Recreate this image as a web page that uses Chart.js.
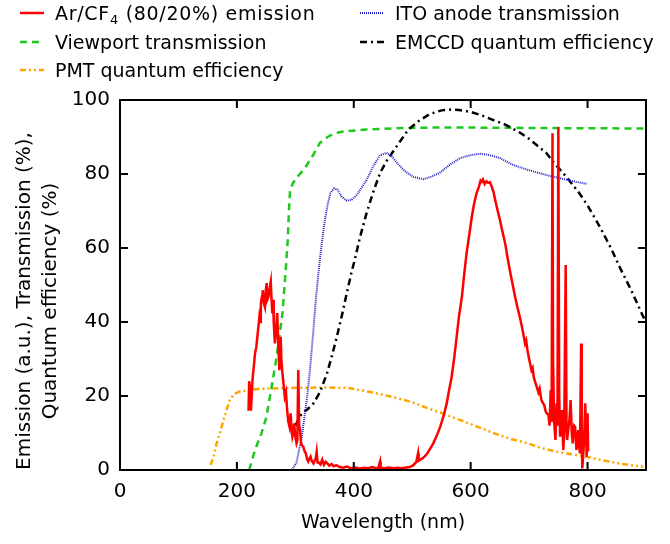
<!DOCTYPE html>
<html>
<head>
<meta charset="utf-8">
<script src="https://cdn.jsdelivr.net/npm/chart.js@4.4.1/dist/chart.umd.min.js"></script>
<style>
  html, body { margin: 0; padding: 0; background: #fff; }
  #wrap { position: relative; width: 670px; height: 544px; }
  #chart { position: absolute; left: 0; top: 0; }
  .legend { position: absolute; font-family: "DejaVu Sans", sans-serif; font-size: 19px; color: #000; }
  .item { position: absolute; display: flex; align-items: center; white-space: nowrap; height: 24px; }
  .item svg { margin-right: 11px; }
  sub { font-size: 13px; vertical-align: -4px; line-height: 0; }
</style>
</head>
<body>
<div id="wrap">
  <canvas id="chart" width="670" height="544"></canvas>
  <div class="legend">
    <div class="item" style="left:20px; top:1px">
      <svg width="24" height="6"><line x1="0" y1="3" x2="24" y2="3" stroke="#ff0000" stroke-width="2.5"/></svg>
      <span style="letter-spacing:0.7px">Ar/CF<sub>4</sub> (80/20%) emission</span>
    </div>
    <div class="item" style="left:20px; top:30px">
      <svg width="24" height="6"><line x1="0" y1="3" x2="24" y2="3" stroke="#1ec81e" stroke-width="2.5" stroke-dasharray="7 5"/></svg>
      <span>Viewport transmission</span>
    </div>
    <div class="item" style="left:20px; top:58px">
      <svg width="24" height="6"><line x1="0" y1="3" x2="24" y2="3" stroke="#ffa500" stroke-width="2.5" stroke-dasharray="6 3 2 3 2 3"/></svg>
      <span>PMT quantum efficiency</span>
    </div>
    <div class="item" style="left:360px; top:1px">
      <svg width="24" height="6"><line x1="0" y1="3" x2="24" y2="3" stroke="#2424c8" stroke-width="2" stroke-dasharray="1 1"/></svg>
      <span>ITO anode transmission</span>
    </div>
    <div class="item" style="left:360px; top:30px">
      <svg width="24" height="6"><line x1="0" y1="3" x2="24" y2="3" stroke="#000" stroke-width="2.5" stroke-dasharray="7 4 2 4"/></svg>
      <span>EMCCD quantum efficiency</span>
    </div>
  </div>
</div>
<script>
// Wavelength in nm, values in % (emission in arbitrary units)
const xTicks = [0, 200, 400, 600, 800];
const yTicks = [0, 20, 40, 60, 80, 100];
const yTitle = ["Emission (a.u.), Transmission (%),", "Quantum efficiency (%)"];

const emissionWl = [220, 221, 223, 224, 225, 227, 229, 231, 233, 235, 237, 238.5, 240, 241, 243, 244, 246, 248, 249, 251,
  252, 254, 256, 258, 259, 260.6, 262, 263, 265, 267, 269, 271, 272.6, 274, 275, 276, 278, 280, 282, 284,
  286, 288, 290, 292, 293.5, 295, 296.5, 298, 300, 302, 303.5, 305, 306.5, 308, 310, 312, 313.6, 316, 318, 320,
  322, 324, 326, 328, 331, 333, 335, 336.5, 338, 340, 343, 346, 349, 352, 354, 358, 362, 366, 370, 376,
  382, 388, 395, 402, 410, 418, 425, 432, 438, 442, 445, 446, 452, 460, 468, 475, 482, 490, 496, 502,
  507, 510, 511, 514, 518, 521, 525, 530, 536, 542, 548, 554, 559, 563, 567.5, 572, 576, 580, 585, 589,
  593, 598, 602, 606, 610, 614, 617, 619, 621, 624, 627, 630, 633, 636, 639, 642, 646, 650, 655, 659,
  663, 667, 672, 676, 680, 684, 688, 691, 693, 695, 697, 700, 702, 704, 706, 708, 711, 713, 716, 718,
  721, 724, 726, 728, 730, 733, 735, 737, 738.5, 740, 741, 742.6, 745, 747, 748.5, 750, 751.5, 753, 756, 758.5,
  760, 762.6, 764, 765, 767, 769, 771, 773, 774.6, 777, 778.6, 781, 783, 784, 786, 787, 789, 790, 791, 793,
  794, 796, 798.5, 800, 801];
const emissionVal = [16, 24, 22, 16, 19, 25, 28, 31.5, 33, 36, 39, 41.4, 40, 45, 47, 48.6, 45, 44, 48, 50.5,
  46, 46.8, 49, 50.9, 47, 42.4, 46, 40, 34.2, 38, 42.4, 33, 27, 31, 36, 30, 26, 23, 19.8, 21,
  16.2, 13, 11.7, 15.3, 11, 9, 10, 12.6, 9, 7.2, 8, 27, 12, 10.8, 7.2, 6.5, 6.3, 5, 4.5, 3,
  2.3, 3, 3.6, 2.5, 1.8, 2.5, 3.2, 4.9, 2, 2, 1.5, 2.8, 1.4, 2.2, 1.9, 1.2, 1.6, 1, 1.3, 0.8,
  0.6, 0.9, 0.5, 0.7, 0.4, 0.6, 0.5, 0.8, 0.5, 0.6, 2.3, 0.6, 0.5, 0.7, 0.5, 0.6, 0.5, 0.7, 0.8, 1.3,
  2.2, 4.5, 2.5, 2.8, 3.2, 3.6, 4.3, 5.6, 7.2, 9.3, 11.7, 14.8, 18, 21.5, 25.2, 30.5, 36, 41.5, 46.8, 53,
  58.6, 64, 68.5, 72, 74.8, 76.5, 78.2, 77.9, 78.5, 77.3, 78, 77.6, 77.8, 76.6, 75.2, 73, 70.2, 67.6, 64, 61.3,
  57.5, 54, 50, 46.8, 44, 41.4, 38.5, 36, 34.2, 35, 32.5, 30, 28.5, 27, 27.6, 25, 23.5, 22.5, 21, 22,
  18.9, 18, 17.5, 16, 15.3, 15, 12, 21.6, 13, 91, 30, 13.5, 8.1, 18, 12, 92.7, 20, 9, 16.2, 5.4,
  10, 55.4, 12, 8.1, 11, 13.5, 18.9, 10, 7.2, 12, 11.7, 5.4, 9, 10.8, 6, 4.5, 34.2, 10, 0.4, 5,
  8.1, 18, 3.6, 15.3, 5];

const viewportWl = [221, 231, 242, 250, 259.5, 268, 278, 283.5, 287, 289, 291, 296, 305, 316, 330, 342, 355, 365, 375, 388,
  420, 480, 550, 650, 750, 900];
const viewportVal = [0, 5.4, 9.9, 14, 22.5, 30.6, 42.3, 54, 62, 70, 75.5, 77.6, 79.5, 81.5, 85, 88.4, 90, 90.8, 91.3, 91.6,
  92, 92.4, 92.6, 92.5, 92.4, 92.3];

const pmtWl = [155, 160, 165, 171, 177, 183, 188, 195, 205, 230, 251, 300, 350, 390, 411, 440, 467, 500, 525, 550,
  582, 610, 639, 670, 696, 720, 748, 775, 799, 830, 860, 895];
const pmtVal = [1.4, 3.5, 7, 10, 13.5, 16.5, 19, 20.5, 21.2, 21.8, 22, 22.2, 22.3, 22.2, 21.6, 20.7, 19.7, 18.3, 16.8, 15.4,
  13.5, 11.8, 10, 8.3, 7.3, 6, 4.9, 4.2, 3.5, 2.5, 1.6, 0.9];

const itoWl = [294, 302, 311, 320, 325, 330, 335, 340, 345, 350, 355, 360, 366, 372, 379, 388, 396, 405, 422, 433,
  445, 456, 465, 473, 487, 502, 519, 533, 547, 565, 582, 600, 616, 633, 650, 673, 700, 730, 760, 780, 800];
const itoVal = [0, 2, 9, 19.5, 27, 36, 46, 54, 61, 67, 71.5, 74.8, 76.1, 75.8, 73.9, 72.8, 73, 74.3, 78.4, 82,
  85.1, 85.7, 84.8, 83.2, 80.8, 79.2, 78.6, 79.3, 80.3, 82.6, 84.3, 85.1, 85.5, 85.1, 84.3, 82.4, 81, 79.7, 78.6, 77.9, 77.3];

const emccdWl = [300, 311, 320, 331, 342, 354, 362, 371, 380, 388, 397, 402, 410, 422, 433, 445, 456, 467, 480, 493,
  510, 530, 550, 565, 580, 600, 616, 640, 660, 684, 700, 730, 741, 765, 785, 800, 820, 840, 856, 875, 895, 900];
const emccdVal = [12, 15.3, 16.3, 18, 21, 26, 30.5, 36, 42, 47.8, 54, 57, 62.5, 69.5, 75, 80.3, 83.5, 86, 89, 91.9,
  94.2, 96.2, 97.2, 97.4, 97.3, 96.8, 96, 94.5, 93.3, 91.2, 89.5, 85.6, 83.3, 79, 75, 71.5, 66, 60, 54.5, 48.5, 41.5, 40];

const pts = (xs, ys) => xs.map((x, i) => ({ x: x, y: ys[i] }));

const FONT = "'DejaVu Sans', sans-serif";

// frame around the plot area with inward ticks on all four sides
const framePlugin = {
  id: "frame",
  afterDraw(chart) {
    const { ctx, chartArea: a, scales } = chart;
    const len = 8;
    ctx.save();
    ctx.strokeStyle = "#000";
    ctx.lineWidth = 2;
    ctx.strokeRect(a.left, a.top, a.right - a.left, a.bottom - a.top);
    ctx.beginPath();
    xTicks.forEach(v => {
      const px = scales.x.getPixelForValue(v);
      if (px <= a.left + 1 || px >= a.right - 1) return;
      ctx.moveTo(px, a.bottom); ctx.lineTo(px, a.bottom - len);
      ctx.moveTo(px, a.top); ctx.lineTo(px, a.top + len);
    });
    yTicks.forEach(v => {
      const py = scales.y.getPixelForValue(v);
      if (py <= a.top + 1 || py >= a.bottom - 1) return;
      ctx.moveTo(a.left, py); ctx.lineTo(a.left + len, py);
      ctx.moveTo(a.right, py); ctx.lineTo(a.right - len, py);
    });
    ctx.stroke();
    ctx.restore();
  }
};

// two-line rotated y title, sitting a little below the middle of the axis
const yTitlePlugin = {
  id: "yTitle",
  afterDraw(chart) {
    const { ctx, chartArea: a } = chart;
    const cy = (a.top + a.bottom) / 2 + 16;
    ctx.save();
    ctx.fillStyle = "#000";
    ctx.font = "20px " + FONT;
    ctx.textAlign = "center";
    ctx.textBaseline = "middle";
    [25, 51].forEach((x, i) => {
      ctx.save();
      ctx.translate(x, cy);
      ctx.rotate(-Math.PI / 2);
      ctx.fillText(yTitle[i], 0, 0);
      ctx.restore();
    });
    ctx.restore();
  }
};

const line = (label, data, color, width, dash) => ({
  label, data, borderColor: color, borderWidth: width, borderDash: dash,
  pointRadius: 0, tension: 0, fill: false
});

new Chart(document.getElementById("chart"), {
  type: "line",
  data: {
    datasets: [
      line("Ar/CF4 (80/20%) emission", pts(emissionWl, emissionVal), "#ff0000", 2.5, []),
      line("ITO anode transmission", pts(itoWl, itoVal), "#2424c8", 2, [1, 1]),
      line("EMCCD quantum efficiency", pts(emccdWl, emccdVal), "#000000", 2.5, [7, 4, 2, 4]),
      line("Viewport transmission", pts(viewportWl, viewportVal), "#1ec81e", 2.5, [7, 5]),
      line("PMT quantum efficiency", pts(pmtWl, pmtVal), "#ffa500", 2.5, [6, 3, 2, 3, 2, 3]),
    ]
  },
  options: {
    responsive: false,
    animation: false,
    layout: { padding: { top: 100, right: 24, left: 0, bottom: 0 } },
    plugins: { legend: { display: false }, tooltip: { enabled: false } },
    scales: {
      x: {
        type: "linear",
        min: 0,
        max: 900,
        afterBuildTicks: s => { s.ticks = xTicks.map(v => ({ value: v })); },
        afterFit: s => { s.height = 74; },
        grid: { display: false, drawTicks: false },
        border: { display: false },
        ticks: { color: "#000", padding: 10, maxRotation: 0, font: { family: FONT, size: 20 } },
        title: {
          display: true, text: "Wavelength (nm)", color: "#000",
          font: { family: FONT, size: 19 }, padding: { top: 0, bottom: 10 }
        }
      },
      y: {
        min: 0,
        max: 100,
        afterBuildTicks: s => { s.ticks = yTicks.map(v => ({ value: v })); },
        afterFit: s => { s.width = 120; },
        grid: { display: false, drawTicks: false },
        border: { display: false },
        ticks: { color: "#000", padding: 10, font: { family: FONT, size: 20 } },
        title: { display: false }
      }
    }
  },
  plugins: [framePlugin, yTitlePlugin]
});
</script>
</body>
</html>
